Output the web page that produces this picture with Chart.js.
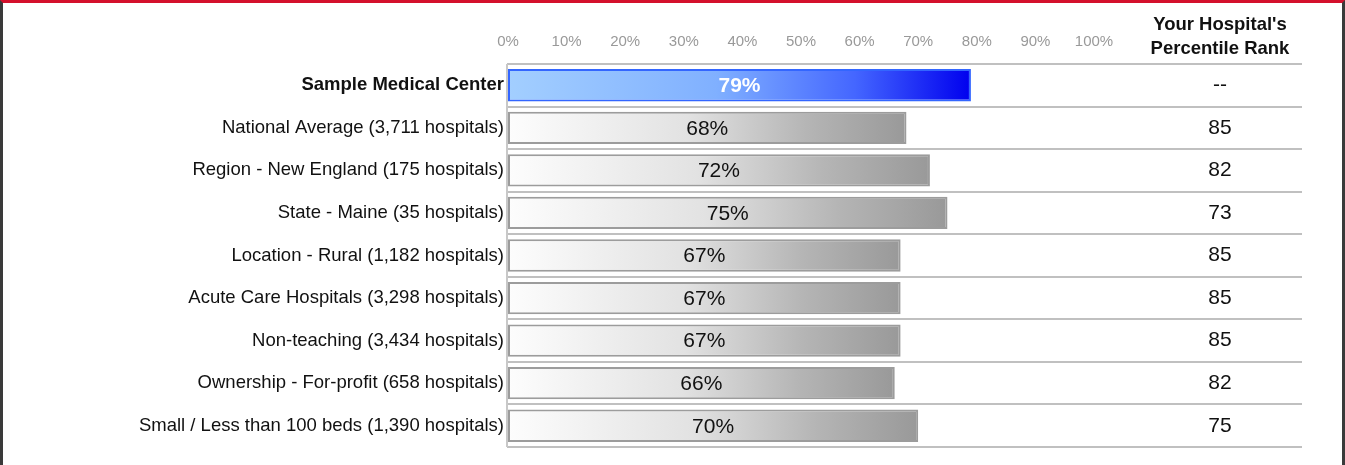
<!DOCTYPE html>
<html>
<head>
<meta charset="utf-8">
<script src="https://cdn.jsdelivr.net/npm/chart.js@4/dist/chart.umd.min.js"></script>
<style>
  body { margin: 0; background: #fff; }
  #wrap { position: relative; width: 1345px; height: 465px; }
  #frame {
    position: absolute; left: 0; top: 0; right: 0; bottom: 0;
    border-top: 3px solid #d4102c;
    border-left: 3px solid #3a3a3a;
    border-right: 3px solid #3a3a3a;
    pointer-events: none;
  }
</style>
</head>
<body>
<div id="wrap">
  <canvas id="myChart" width="1345" height="465"></canvas>
  <div id="frame"></div>
</div>
<script>
const categories = [
  "Sample Medical Center",
  "National Average (3,711 hospitals)",
  "Region - New England (175 hospitals)",
  "State - Maine (35 hospitals)",
  "Location - Rural (1,182 hospitals)",
  "Acute Care Hospitals (3,298 hospitals)",
  "Non-teaching (3,434 hospitals)",
  "Ownership - For-profit (658 hospitals)",
  "Small / Less than 100 beds (1,390 hospitals)"
];
const scores = [79, 68, 72, 75, 67, 67, 67, 66, 70];
const ranks = ["--", "85", "82", "73", "85", "85", "85", "82", "75"];
const rankTitle = ["Your Hospital's", "Percentile Rank"];

const ctx = document.getElementById("myChart");
const FONT = "'Liberation Sans', Arial, sans-serif";

//gradient from the axis to the end of each bar
function barFill(c) {
  const chart = c.chart;
  const area = chart.chartArea;
  if (!area || c.dataIndex === undefined) return "#ccc";
  const x0 = area.left;
  const x1 = chart.scales.x.getPixelForValue(scores[c.dataIndex]);
  const g = chart.ctx.createLinearGradient(x0, 0, x1, 0);
  if (c.dataIndex === 0) {
    g.addColorStop(0, "#a3cfff");
    g.addColorStop(0.45, "#80b0ff");
    g.addColorStop(0.75, "#4466ff");
    g.addColorStop(1, "#0000ee");
  } else {
    g.addColorStop(0, "#fdfdfd");
    g.addColorStop(0.45, "#e2e2e2");
    g.addColorStop(0.75, "#b5b5b5");
    g.addColorStop(1, "#999999");
  }
  return g;
}

//row separators, value labels and the rank column
const tablePlugin = {
  id: "tablePlugin",
  beforeDatasetsDraw(chart) {
    const c = chart.ctx;
    const area = chart.chartArea;
    const step = (area.bottom - area.top) / categories.length;
    c.save();
    c.strokeStyle = "#c0c0c0";
    c.lineWidth = 2;
    for (let i = 0; i <= categories.length; i++) {
      const py = Math.round(area.top + i * step);
      c.beginPath();
      c.moveTo(area.left - 1, py);
      c.lineTo(1302, py);
      c.stroke();
    }
    c.strokeStyle = "#c8c8c8";
    c.beginPath();
    c.moveTo(area.left - 1, area.top);
    c.lineTo(area.left - 1, area.bottom);
    c.stroke();
    c.restore();
  },
  afterDraw(chart) {
    const c = chart.ctx;
    const x = chart.scales.x;
    const y = chart.scales.y;
    c.save();
    c.textAlign = "center";
    c.textBaseline = "middle";
    scores.forEach(function (v, i) {
      const py = y.getPixelForValue(i);
      const px = (x.getPixelForValue(0) + x.getPixelForValue(v)) / 2;
      if (i === 0) {
        c.font = "bold 21px " + FONT;
        c.fillStyle = "#ffffff";
      } else {
        c.font = "21px " + FONT;
        c.fillStyle = "#111111";
      }
      c.fillText(v + "%", px, py + 1);
      c.font = "21px " + FONT;
      c.fillStyle = "#111111";
      c.fillText(ranks[i], 1220, py);
    });
    c.font = "bold 18.5px " + FONT;
    c.fillText(rankTitle[0], 1220, 25);
    c.fillText(rankTitle[1], 1220, 49);
    c.restore();
  }
};

new Chart(ctx, {
  type: "bar",
  data: {
    labels: categories,
    datasets: [
      {
        label: "Score",
        data: scores,
        backgroundColor: barFill,
        borderColor: function (c) {
          return c.dataIndex === 0 ? "#3366ff" : "#9c9c9c";
        },
        borderWidth: 2,
        borderSkipped: false,
        barPercentage: 0.76,
        categoryPercentage: 1,
      },
    ],
  },
  options: {
    indexAxis: "y",
    responsive: false,
    maintainAspectRatio: false,
    animation: false,
    layout: {
      padding: { top: 3, right: 251, left: 0, bottom: 18 },
    },
    plugins: {
      legend: { display: false },
      tooltip: { enabled: false },
    },
    scales: {
      x: {
        position: "top",
        min: 0,
        max: 100,
        grid: { display: false, drawTicks: false },
        border: { display: false },
        afterFit: function (scale) {
          scale.height = 61;
        },
        ticks: {
          stepSize: 10,
          padding: 13,
          color: "#999999",
          font: { family: FONT, size: 15 },
          callback: function (v) {
            return v + "%";
          },
        },
      },
      y: {
        grid: { display: false, drawTicks: false },
        border: { display: false },
        afterFit: function (scale) {
          scale.width = 508;
        },
        ticks: {
          padding: 4,
          color: "#111111",
          font: function (c) {
            return c.index === 0
              ? { family: FONT, size: 18.5, weight: "bold" }
              : { family: FONT, size: 18.5 };
          },
        },
      },
    },
  },
  plugins: [tablePlugin],
});
</script>
</body>
</html>
